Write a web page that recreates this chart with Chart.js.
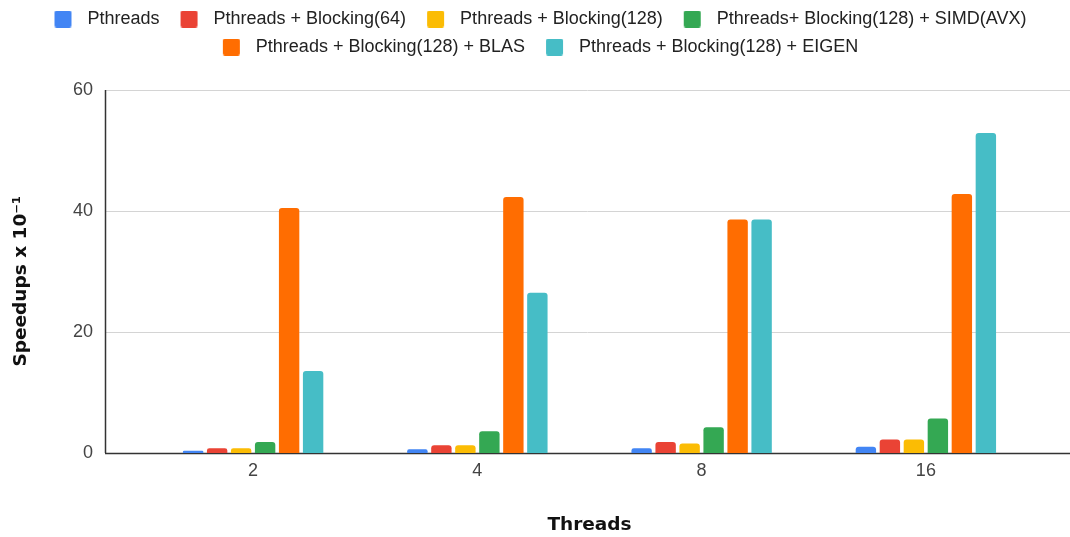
<!DOCTYPE html>
<html>
<head>
<meta charset="utf-8">
<script src="https://cdn.jsdelivr.net/npm/chart.js@4.4.1/dist/chart.umd.min.js"></script>
<style>
  html, body { margin: 0; padding: 0; background: #fff; }
  #wrap { width: 1070px; height: 537px; position: relative; }
</style>
</head>
<body>
<div id="wrap"><canvas id="c"></canvas></div>
<script>
// Thread counts on the x axis
const threads = ['2', '4', '8', '16'];

// Speedups (x 10^-1) per variant
const pthreads        = [0.38, 0.6, 0.8, 1.05];
const blocking64      = [0.8, 1.3, 1.8, 2.25];
const blocking128     = [0.8, 1.3, 1.55, 2.25];
const blocking128Simd = [1.8, 3.6, 4.25, 5.7];
const blocking128Blas = [40.5, 42.3, 38.6, 42.8];
const blocking128Eigen= [13.55, 26.5, 38.6, 52.9];

const seriesNames = [
  'Pthreads',
  'Pthreads + Blocking(64)',
  'Pthreads + Blocking(128)',
  'Pthreads+ Blocking(128) + SIMD(AVX)',
  'Pthreads + Blocking(128) + BLAS',
  'Pthreads + Blocking(128) + EIGEN'
];
const seriesValues = [pthreads, blocking64, blocking128, blocking128Simd, blocking128Blas, blocking128Eigen];
const seriesColors = ['#4285F4', '#EA4335', '#FBBC04', '#34A853', '#FF6D01', '#46BDC6'];

const yTicks = [0, 20, 40, 60];

const FONT = "'Liberation Sans', Arial, sans-serif";
const TITLE_FONT = "'DejaVu Sans', Verdana, sans-serif";

// Legend swatch: rounded square with room around it
function swatch(color) {
  const cv = document.createElement('canvas');
  cv.width = 35; cv.height = 17;
  const g = cv.getContext('2d');
  g.fillStyle = color;
  g.beginPath();
  if (g.roundRect) g.roundRect(11, 0, 17, 17, 2); else g.rect(11, 0, 17, 17);
  g.fill();
  return cv;
}
const swatches = seriesColors.map(swatch);

// Reserve a fixed band above the plot for the legend
const legendBand = {
  id: 'legendBand',
  beforeLayout(chart) {
    const lg = chart.legend;
    if (lg && !lg._bandPatched) {
      const fit = lg.fit;
      lg.fit = function () {
        fit.call(this);
        this.height = Math.max(this.height, 90);
      };
      lg._bandPatched = true;
    }
  }
};

// Grid and axis lines that run across the full plot frame
const frameLines = {
  id: 'frameLines',
  beforeDatasetsDraw(chart) {
    const {ctx, chartArea} = chart;
    const y = chart.scales.y;
    const x0 = chartArea.left - 36;
    const x1 = chart.width;
    ctx.save();
    yTicks.forEach(v => {
      const py = Math.round(y.getPixelForValue(v)) + 0.5;
      ctx.beginPath();
      ctx.moveTo(x0, py);
      ctx.lineTo(x1, py);
      ctx.strokeStyle = v === 0 ? '#333333' : '#d4d4d4';
      ctx.lineWidth = v === 0 ? 1.5 : 1;
      ctx.stroke();
    });
    ctx.beginPath();
    ctx.moveTo(x0 + 0.5, y.getPixelForValue(60));
    ctx.lineTo(x0 + 0.5, y.getPixelForValue(0));
    ctx.strokeStyle = '#333333';
    ctx.lineWidth = 1.5;
    ctx.stroke();
    ctx.restore();
  }
};

new Chart(document.getElementById('c'), {
  type: 'bar',
  data: {
    labels: threads,
    datasets: seriesNames.map((name, i) => ({
      label: name,
      data: seriesValues[i],
      backgroundColor: seriesColors[i],
      borderRadius: 3,
      borderSkipped: 'start',
      categoryPercentage: 0.642,
      barPercentage: 0.85
    }))
  },
  options: {
    responsive: true,
    maintainAspectRatio: false,
    animation: false,
    devicePixelRatio: 1,
    layout: { padding: 0 },
    plugins: {
      tooltip: { enabled: false },
      legend: {
        position: 'top',
        labels: {
          font: { family: FONT, size: 18 },
          color: '#222222',
          usePointStyle: true,
          pointStyleWidth: 35,
          boxHeight: 17,
          padding: 10,
          generateLabels(chart) {
            const items = Chart.defaults.plugins.legend.labels.generateLabels(chart);
            items.forEach((it, i) => { it.pointStyle = swatches[i]; });
            return items;
          }
        }
      }
    },
    scales: {
      x: {
        grid: { display: false, drawTicks: false },
        border: { display: false },
        ticks: { font: { family: FONT, size: 18 }, color: '#444444', padding: 7 },
        title: {
          display: true, text: 'Threads',
          font: { family: TITLE_FONT, size: 18.5, weight: 'bold' }, color: '#111111',
          padding: { top: 0, bottom: 1 }
        },
        afterFit(scale) {
          scale.height = 84;
          scale.paddingRight = 32;
        }
      },
      y: {
        min: 0, max: 60,
        afterBuildTicks(scale) { scale.ticks = yTicks.map(v => ({ value: v })); },
        grid: { display: false, drawTicks: false },
        border: { display: false },
        ticks: { font: { family: FONT, size: 18 }, color: '#444444', padding: 48 },
        title: {
          display: true, text: 'Speedups x 10⁻¹   ',
          font: { family: TITLE_FONT, size: 18.5, weight: 'bold' }, color: '#111111',
          padding: { top: 10, bottom: 0 }
        },
        afterFit(scale) {
          scale.width = 141;
        }
      }
    }
  },
  plugins: [legendBand, frameLines]
});
</script>
</body>
</html>
